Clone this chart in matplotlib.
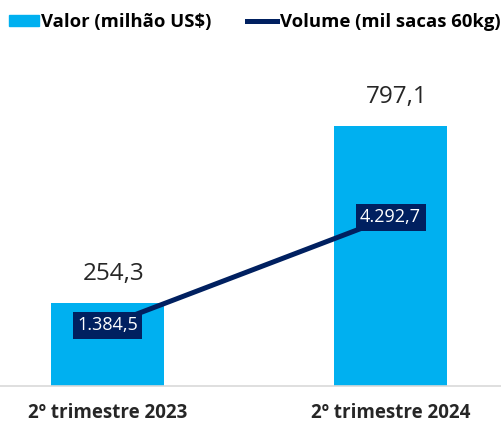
import matplotlib
matplotlib.use('Agg')
import matplotlib.pyplot as plt
from matplotlib.patches import Patch
from matplotlib.lines import Line2D

# dados do grafico
periodos = ['2º trimestre 2023', '2º trimestre 2024']
valor = [254.3, 797.1]          # milhão US$
volume = [1384.5, 4292.7]       # mil sacas 60kg
valor_txt = ['254,3', '797,1']
volume_txt = ['1.384,5', '4.292,7']

azul = '#00B0F0'
marinho = '#002060'

plt.rcParams['font.family'] = ['Open Sans', 'DejaVu Sans']

fig = plt.figure(figsize=(5.01, 4.25), dpi=100)
ax = fig.add_axes([0, 39 / 425, 1, 326 / 425])
x = list(range(len(periodos)))

ax.bar(x, valor, width=0.4, color=azul, zorder=2)
ax.set_xlim(-0.38, 1.39)
ax.set_ylim(0, 1000)
for i, v in enumerate(valor):
    ax.text(i + 0.02, v + 90, valor_txt[i], ha='center', va='center',
            fontsize=17.5, color='#262626')

ax2 = ax.twinx()
ax2.plot(x, volume, color=marinho, lw=3.6, zorder=3, solid_capstyle='butt')
ax2.set_ylim(-253, 8525)
for i, v in enumerate(volume):
    ax2.text(i, v, volume_txt[i], ha='center', va='center', fontsize=13,
             color='white', zorder=4,
             bbox=dict(boxstyle='square,pad=0.25', fc=marinho, ec='none'))

for a in (ax, ax2):
    for s in a.spines.values():
        s.set_visible(False)
    a.set_yticks([])
ax.spines['bottom'].set_visible(True)
ax.spines['bottom'].set_color('#D9D9D9')
ax.spines['bottom'].set_linewidth(1.2)

ax.set_xticks(x)
ax.set_xticklabels(periodos, fontsize=13.5, fontweight='bold', color='#262626')
ax.tick_params(axis='x', length=0, pad=12)

handles = [Patch(color=azul, label='Valor (milhão US$)'),
           Line2D([], [], color=marinho, lw=3.6, label='Volume (mil sacas 60kg)')]
fig.legend(handles=handles, loc='upper left', bbox_to_anchor=(-0.012, 1.005), ncol=2,
           frameon=False, prop={'weight': 'bold', 'size': 13.3},
           handlelength=1.65, handleheight=0.55, handletextpad=0.12,
           columnspacing=1.9, borderaxespad=0.4)

fig.savefig('out.png', dpi=100, facecolor='white')
